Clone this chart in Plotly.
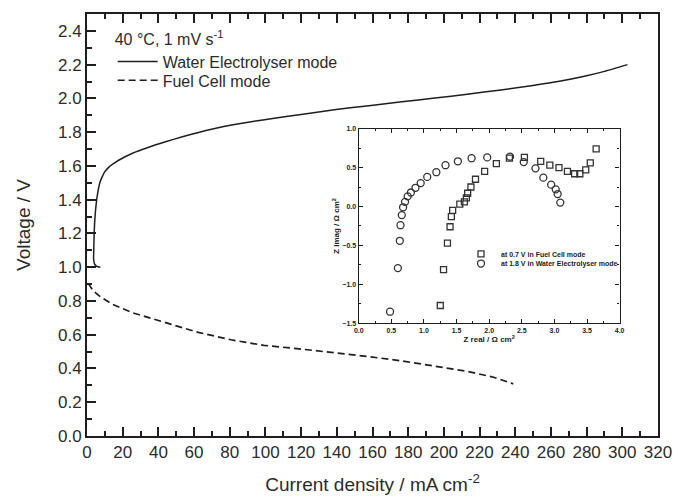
import plotly.graph_objects as go

# Main chart data (current density mA cm^-2, voltage V)
we_current = [7.5, 5.5, 4.2, 3.7, 3.8, 4.0, 4.5, 5.2, 6.0, 7.2, 8.5, 9.9, 12.0, 14.4, 18.0,
              25.5, 35.0, 44.0, 53.0, 62.0, 71.0, 81.0, 92.0, 105.0, 120.0, 139.6, 158.0,
              176.4, 195.0, 213.1, 232.0, 249.9, 264.0, 277.5, 290.0, 302.9]
we_voltage = [1.00, 1.005, 1.02, 1.05, 1.10, 1.20, 1.30, 1.38, 1.44, 1.50, 1.535, 1.565, 1.59, 1.61, 1.635,
              1.675, 1.712, 1.743, 1.771, 1.797, 1.82, 1.842, 1.862, 1.882, 1.905, 1.934, 1.957,
              1.980, 2.002, 2.025, 2.050, 2.077, 2.100, 2.128, 2.160, 2.200]

fc_current = [0.7, 3.5, 7.2, 14.5, 25.5, 44.0, 62.3, 80.7, 99.1, 117.5, 139.6, 158.0, 176.4,
              194.8, 213.1, 227.9, 238.9]
fc_voltage = [0.904, 0.86, 0.827, 0.779, 0.730, 0.672, 0.614, 0.570, 0.537, 0.518, 0.493, 0.470, 0.445,
              0.416, 0.383, 0.348, 0.309]

# Inset impedance data (Z real, Z imag in Ohm cm^2)
fc_zreal = [1.25, 1.30, 1.36, 1.40, 1.42, 1.44, 1.55, 1.62, 1.65, 1.67, 1.72, 1.79, 1.93, 2.11,
            2.31, 2.54, 2.79, 2.93, 3.07, 3.20, 3.31, 3.39, 3.48, 3.55, 3.64]
fc_zimag = [-1.27, -0.81, -0.47, -0.26, -0.13, -0.05, 0.03, 0.06, 0.11, 0.17, 0.25, 0.35, 0.45, 0.55,
            0.62, 0.63, 0.58, 0.53, 0.50, 0.45, 0.42, 0.42, 0.47, 0.56, 0.74]

we_zreal = [0.48, 0.60, 0.63, 0.64, 0.66, 0.68, 0.71, 0.75, 0.80, 0.87, 0.95, 1.05, 1.19, 1.33,
            1.52, 1.73, 1.97, 2.32, 2.53, 2.71, 2.83, 2.95, 3.02, 3.05, 3.09]
we_zimag = [-1.35, -0.79, -0.44, -0.24, -0.11, -0.01, 0.06, 0.13, 0.18, 0.24, 0.30, 0.38, 0.44, 0.53,
            0.58, 0.62, 0.63, 0.64, 0.57, 0.49, 0.37, 0.28, 0.22, 0.16, 0.05]

TXT = "#2b2b2b"
LINE = "#1e1e1e"
FONT = "Liberation Sans, Arial, sans-serif"

fig = go.Figure()
fig.add_trace(go.Scatter(x=we_current, y=we_voltage, mode="lines", name="Water Electrolyser mode",
                         line=dict(color=LINE, width=1.5, shape="spline", smoothing=0.6), legend="legend"))
fig.add_trace(go.Scatter(x=fc_current, y=fc_voltage, mode="lines", name="Fuel Cell mode",
                         line=dict(color=LINE, width=1.7, dash="7px,4px"), legend="legend3"))
fig.add_trace(go.Scatter(x=fc_zreal, y=fc_zimag, mode="markers", name="at 0.7 V in Fuel Cell mode",
                         xaxis="x2", yaxis="y2", legend="legend2",
                         marker=dict(symbol="square-open", size=6, color="#333", line=dict(width=1.3))))
fig.add_trace(go.Scatter(x=we_zreal, y=we_zimag, mode="markers", name="at 1.8 V in Water Electrolyser mode",
                         xaxis="x2", yaxis="y2", legend="legend4",
                         marker=dict(symbol="circle-open", size=7, color="#333", line=dict(width=1.3))))

main_ax = dict(showline=True, linecolor=LINE, linewidth=1.8, ticks="inside", ticklen=9, tickwidth=1.5,
               tickcolor=LINE, showgrid=False, zeroline=False,
               tickfont=dict(size=17, color=TXT, family=FONT))
inset_ax = dict(showline=True, linecolor=LINE, linewidth=1.3, ticks="inside", ticklen=4, tickwidth=1,
                tickcolor=LINE, showgrid=False, zeroline=False, mirror="ticks",
                tickfont=dict(size=7, color="#222", family=FONT, weight="bold"))

leg_main = dict(xanchor="left", yanchor="top", bgcolor="rgba(0,0,0,0)",
                font=dict(size=16, color=TXT), itemwidth=40, visible=True)
leg_inset = dict(xanchor="left", yanchor="top", bgcolor="rgba(0,0,0,0)",
                 font=dict(size=7, color="#222", weight="bold"), itemwidth=30, visible=True)

fig.update_layout(
    width=682, height=502,
    margin=dict(l=87, r=15, t=10, b=61),
    paper_bgcolor="white", plot_bgcolor="white",
    font=dict(family=FONT, color=TXT),
    showlegend=True,
    xaxis=dict(**main_ax, range=[0, 320], tick0=0, dtick=20, mirror="ticks",
               minor=dict(dtick=10, ticks="inside", ticklen=5, tickcolor=LINE, tickwidth=1.5),
               title=dict(text="Current density / mA cm<sup>-2</sup>", font=dict(size=19, color=TXT), standoff=16)),
    yaxis=dict(**main_ax, range=[0, 2.5], tick0=0, dtick=0.2, tickformat=".1f", mirror=True,
               minor=dict(dtick=0.1, ticks="inside", ticklen=5, tickcolor=LINE, tickwidth=1.5),
               title=dict(text="Voltage / V", font=dict(size=19, color=TXT), standoff=22)),
    xaxis2=dict(**inset_ax, domain=[0.4759, 0.9328], anchor="y2", range=[0, 4.0], tick0=0, dtick=0.5,
                tickformat=".1f", minor=dict(dtick=0.25, ticks="inside", ticklen=2, tickcolor=LINE),
                title=dict(text="Z real / Ω cm<sup>2</sup>", font=dict(size=8, color="#222", weight="bold"), standoff=1)),
    yaxis2=dict(**inset_ax, domain=[0.2668, 0.7285], anchor="x2", range=[-1.5, 1.0], tick0=-1.5, dtick=0.5,
                tickformat=".1f", minor=dict(dtick=0.25, ticks="inside", ticklen=2, tickcolor=LINE),
                title=dict(text="Z imag / Ω cm<sup>2</sup>", font=dict(size=8, color="#222", weight="bold"), standoff=1)),
    legend=dict(**leg_main, x=0.045, y=0.977,
                title=dict(text="40 °C, 1 mV s<sup>-1</sup>", font=dict(size=16, color=TXT), side="top")),
    legend3=dict(**leg_main, x=0.045, y=0.883),
    legend2=dict(**leg_inset, x=0.655, y=0.466),
    legend4=dict(**leg_inset, x=0.655, y=0.443),
)

fig.write_html("out.html")
